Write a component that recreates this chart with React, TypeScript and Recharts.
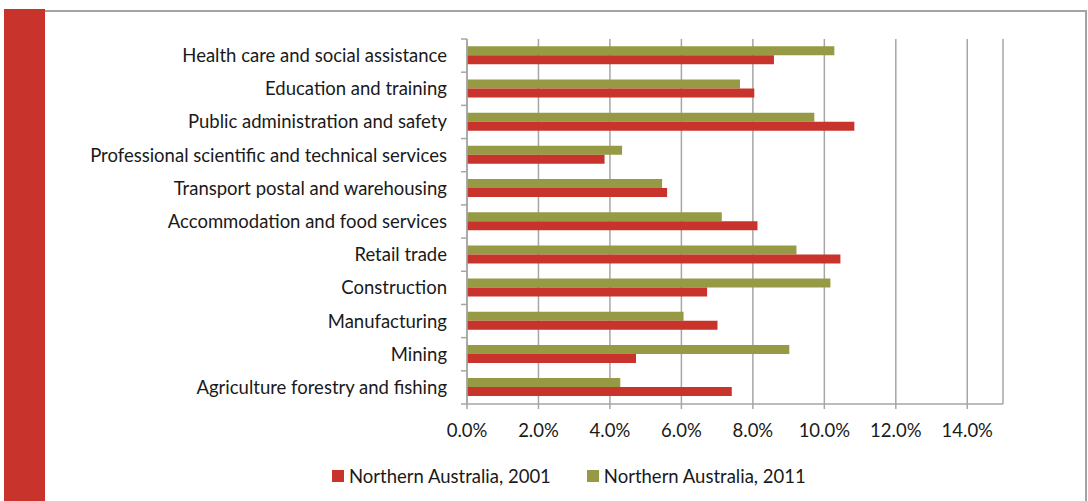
import { BarChart, Bar, XAxis, YAxis, CartesianGrid, Legend } from 'recharts';

const categories = [
  'Health care and social assistance',
  'Education and training',
  'Public administration and safety',
  'Professional scientific and technical services',
  'Transport postal and warehousing',
  'Accommodation and food services',
  'Retail trade',
  'Construction',
  'Manufacturing',
  'Mining',
  'Agriculture forestry and fishing',
];

// share of employment, %
const northern2001 = [8.59, 8.04, 10.84, 3.85, 5.6, 8.13, 10.45, 6.72, 7.01, 4.73, 7.41];
const northern2011 = [10.28, 7.64, 9.72, 4.34, 5.46, 7.13, 9.22, 10.17, 6.06, 9.02, 4.29];

const xTicks = [0, 2, 4, 6, 8, 10, 12, 14];

const seriesNames = ['Northern Australia, 2001', 'Northern Australia, 2011'];

const RED = '#C8342B';
const GREEN = '#979A44';
const GREY = '#A6A6A6';
const FONT = 'Lato, "Open Sans", sans-serif';
const FONT_SIZE = 18.5;

const W = 1088;
const H = 501;
const X_AXIS_H = 30;
const MARGIN = { top: 39, right: 85, bottom: 97 - X_AXIS_H, left: 0 };
const Y_AXIS_W = 467;
const LABEL_GAP = 20;
const HALF_BAND = (H - 39 - 97) / categories.length / 2;

const data = categories.map((name, i) => ({
  name,
  y2001: northern2001[i],
  y2011: northern2011[i],
}));

const formatPct = (v: number) => `${v.toFixed(1)}%`;

function CategoryTick(props: any) {
  const { x, y, payload, index } = props;
  const axisX = x + LABEL_GAP;
  return (
    <g>
      <line x1={axisX - 6} x2={axisX} y1={y - HALF_BAND} y2={y - HALF_BAND} stroke={GREY} strokeWidth={1.5} />
      {index === categories.length - 1 && (
        <line x1={axisX - 6} x2={axisX} y1={y + HALF_BAND} y2={y + HALF_BAND} stroke={GREY} strokeWidth={1.5} />
      )}
      <text x={x} y={y} dy="0.35em" textAnchor="end" fill="#1a1a1a" fontSize={FONT_SIZE} fontFamily={FONT}>
        {payload.value}
      </text>
    </g>
  );
}

function LegendBox() {
  const colors = [RED, GREEN];
  return (
    <div style={{ display: 'flex', fontFamily: FONT, fontSize: FONT_SIZE, color: '#1a1a1a' }}>
      {seriesNames.map((s, i) => (
        <div key={s} style={{ display: 'flex', alignItems: 'center', marginRight: 36 }}>
          <span style={{ width: 12, height: 12, background: colors[i], marginRight: 5, display: 'inline-block' }} />
          <span>{s}</span>
        </div>
      ))}
    </div>
  );
}

export default function App() {
  return (
    <div style={{ position: 'absolute', left: 0, top: 0, width: W, height: H, background: '#fff', overflow: 'hidden' }}>
      {/* frame: red side band, grey top and right rules */}
      <div style={{ position: 'absolute', left: 4, top: 9, width: 41, height: H - 9, background: RED }} />
      <div style={{ position: 'absolute', left: 45, top: 10, width: 1042, height: 2, background: '#A3A3A3' }} />
      <div style={{ position: 'absolute', left: 1085, top: 10, width: 2, height: H - 10, background: '#A3A3A3' }} />

      <div style={{ position: 'absolute', left: 0, top: 0 }}>
        <BarChart
          width={W}
          height={H}
          data={data}
          layout="vertical"
          margin={MARGIN}
          barGap={0}
          barCategoryGap="22%"
        >
          <CartesianGrid vertical horizontal={false} stroke={GREY} strokeWidth={1.5} />
          <XAxis
            type="number"
            domain={[0, 15]}
            ticks={xTicks}
            tickFormatter={formatPct}
            height={X_AXIS_H}
            axisLine={{ stroke: GREY, strokeWidth: 1.5 }}
            tickLine={{ stroke: GREY, strokeWidth: 1.5 }}
            tickSize={5}
            tickMargin={15}
            tick={{ fill: '#1a1a1a', fontSize: FONT_SIZE, fontFamily: FONT }}
            interval={0}
          />
          <YAxis
            type="category"
            dataKey="name"
            width={Y_AXIS_W}
            axisLine={{ stroke: GREY, strokeWidth: 1.5 }}
            tickLine={false}
            tickSize={0}
            tickMargin={LABEL_GAP}
            tick={<CategoryTick />}
            interval={0}
          />
          <Legend
            layout="horizontal"
            verticalAlign="middle"
            align="center"
            wrapperStyle={{ top: 465, left: 332, width: 560 }}
            content={() => <LegendBox />}
          />
          <Bar dataKey="y2011" name={seriesNames[1]} fill={GREEN} isAnimationActive={false} />
          <Bar dataKey="y2001" name={seriesNames[0]} fill={RED} isAnimationActive={false} />
        </BarChart>
      </div>
    </div>
  );
}
